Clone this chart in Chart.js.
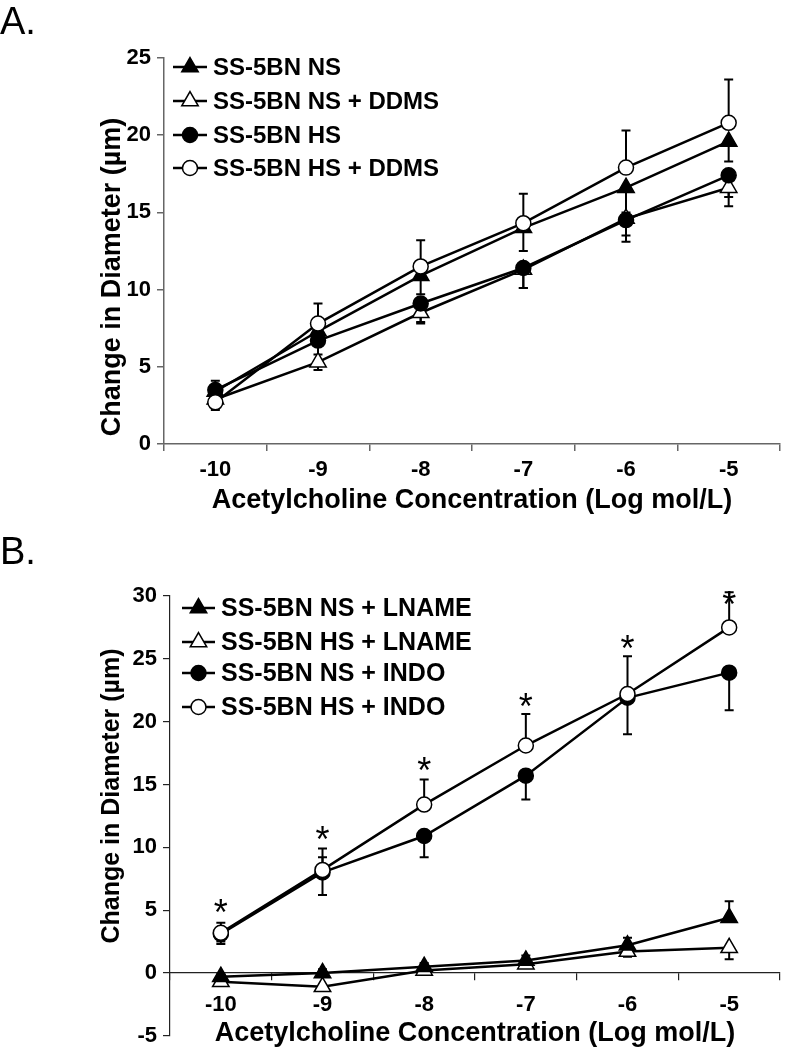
<!DOCTYPE html>
<html>
<head>
<meta charset="utf-8">
<script src="https://cdn.jsdelivr.net/npm/chart.js@4.4.1/dist/chart.umd.min.js"></script>
<style>
  body { margin: 0; background: #fff; width: 791px; height: 1050px; position: relative; overflow: hidden; font-family: "Liberation Sans", Arial, sans-serif; }
  .panel { position: absolute; left: 0; width: 791px; }
  #wrapA { top: 0; height: 520px; }
  #wrapB { top: 525px; height: 530px; }
  .tag { position: absolute; left: 0; font-size: 38px; color: #000; line-height: 1; }
</style>
</head>
<body>
<div class="panel" id="wrapA"><canvas id="chartA" width="791" height="520"></canvas></div>
<div class="panel" id="wrapB"><canvas id="chartB" width="791" height="530"></canvas></div>
<div class="tag" style="top:2px">A.</div>
<div class="tag" style="top:532px">B.</div>
<script>
// x categories (log mol/L acetylcholine)
const doses = ['-10', '-9', '-8', '-7', '-6', '-5'];

// panel A
const nsA       = [3.4, 7.3, 10.9, 14.0, 16.6, 19.6];
const nsDdmsA   = [2.9, 5.3, 8.5, 11.3, 14.6, 16.6];
const hsA       = [3.5, 6.7, 9.1, 11.4, 14.5, 17.4];
const hsDdmsA   = [2.7, 7.8, 11.5, 14.3, 17.9, 20.8];
const nsA_dn     = [0.5, 0.9, 1.2, 1.5, 1.6, 1.3];
const nsDdmsA_dn = [0.4, 0.5, 0.7, 1.2, 1.1, 1.2];
const hsA_up     = [0.6, 0, 0, 0, 0, 0];
const hsA_dn     = [0.5, 0.9, 1.2, 1.3, 1.4, 1.4];
const hsDdmsA_up = [0.4, 1.3, 1.7, 1.9, 2.4, 2.8];
const hsDdmsA_dn = [0.5, 0, 0, 0, 0, 0];

// panel B
const nsLnameB   = [-0.3, 0.0, 0.5, 1.0, 2.2, 4.4];
const hsLnameB   = [-0.7, -1.1, 0.2, 0.7, 1.7, 2.0];
const nsIndoB    = [3.1, 8.0, 10.9, 15.7, 21.9, 23.9];
const hsIndoB    = [3.2, 8.2, 13.4, 18.1, 22.2, 27.5];
const nsLnameB_up = [0.2, 0.3, 0.3, 0.4, 0.6, 1.3];
const hsLnameB_dn = [0.3, 0.3, 0.3, 0.3, 0.4, 0.9];
const nsIndoB_up  = [0, 1.2, 0, 0, 0, 0];
const nsIndoB_dn  = [0.6, 1.8, 1.7, 1.9, 2.9, 3.0];
const hsIndoB_up  = [0.8, 1.7, 2.0, 2.5, 3.0, 2.8];
const hsIndoB_dn  = [0.9, 0, 0, 0, 0, 0];
const starsB      = [5.5, 11.3, 16.8, 21.9, 26.5, 30.0];

const yTicksA = [0, 5, 10, 15, 20, 25];
const yTicksB = [-5, 0, 5, 10, 15, 20, 25, 30];

Chart.defaults.font.family = '"Liberation Sans", Arial, sans-serif';
Chart.defaults.color = '#000';

function series(label, data, style, filled, up, dn, order) {
    return {
        label: label,
        data: data,
        borderColor: '#000',
        borderWidth: 2.5,
        tension: 0,
        pointStyle: style,
        pointRadius: style === 'triangle' ? 9.5 : 7.5,
        pointBorderWidth: 1.5,
        pointBorderColor: '#000',
        pointBackgroundColor: filled ? '#000' : '#fff',
        errUp: up,
        errDn: dn,
        order: order
    };
}

// error bars, drawn under the lines and markers
const errorBars = {
    id: 'errorBars',
    beforeDatasetsDraw(chart) {
        const ctx = chart.ctx;
        const y = chart.scales.y;
        ctx.save();
        ctx.strokeStyle = '#000';
        ctx.lineWidth = 2;
        chart.data.datasets.forEach((ds, i) => {
            const meta = chart.getDatasetMeta(i);
            meta.data.forEach((pt, j) => {
                const v = ds.data[j];
                [[ds.errUp, 1], [ds.errDn, -1]].forEach(([arr, sgn]) => {
                    if (!arr || !arr[j]) return;
                    const end = y.getPixelForValue(v + sgn * arr[j]);
                    ctx.beginPath();
                    ctx.moveTo(pt.x, pt.y);
                    ctx.lineTo(pt.x, end);
                    ctx.moveTo(pt.x - 4.5, end);
                    ctx.lineTo(pt.x + 4.5, end);
                    ctx.stroke();
                });
            });
        });
        ctx.restore();
    }
};

// legend entries: short line with the marker in its middle
const lineLegend = {
    id: 'lineLegend',
    afterDraw(chart, args, opts) {
        const ctx = chart.ctx;
        ctx.save();
        chart.data.datasets.forEach((ds, i) => {
            const yy = opts.rows[i];
            ctx.strokeStyle = '#000';
            ctx.lineWidth = 2.5;
            ctx.beginPath();
            ctx.moveTo(opts.x1, yy);
            ctx.lineTo(opts.x2, yy);
            ctx.stroke();
            ctx.fillStyle = ds.pointBackgroundColor;
            ctx.strokeStyle = '#000';
            ctx.lineWidth = ds.pointBorderWidth;
            Chart.helpers.drawPoint(ctx, {
                pointStyle: ds.pointStyle, radius: ds.pointRadius, rotation: 0, borderWidth: ds.pointBorderWidth
            }, (opts.x1 + opts.x2) / 2, yy);
            ctx.fillStyle = '#000';
            ctx.font = 'bold ' + opts.size + 'px "Liberation Sans", Arial, sans-serif';
            ctx.textBaseline = 'middle';
            ctx.textAlign = 'left';
            ctx.fillText(ds.label, opts.textX, yy + 1);
        });
        ctx.restore();
    }
};

const yTitle = {
    id: 'yTitle',
    afterDraw(chart, args, opts) {
        const ctx = chart.ctx;
        ctx.save();
        ctx.translate(opts.x, opts.y);
        ctx.rotate(-Math.PI / 2);
        ctx.fillStyle = '#000';
        ctx.font = 'bold ' + opts.size + 'px "Liberation Sans", Arial, sans-serif';
        ctx.textAlign = 'center';
        ctx.textBaseline = 'middle';
        ctx.fillText(opts.text, 0, 0);
        ctx.restore();
    }
};

const stars = {
    id: 'stars',
    afterDraw(chart, args, opts) {
        if (!opts.values) return;
        const ctx = chart.ctx;
        const x = chart.scales.x, y = chart.scales.y;
        ctx.save();
        ctx.fillStyle = '#000';
        ctx.font = '36px "Liberation Sans", Arial, sans-serif';
        ctx.textAlign = 'center';
        ctx.textBaseline = 'alphabetic';
        opts.values.forEach((v, j) => {
            ctx.fillText('*', x.getPixelForValue(j), y.getPixelForValue(v) + 21);
        });
        ctx.restore();
    }
};

function axisStyle(color, width) {
    return {
        grid: { drawOnChartArea: false, tickLength: 7, color: color, lineWidth: width, offset: true },
        border: { color: color, width: width }
    };
}

function makeChart(id, cfg) {
    const xs = axisStyle(cfg.axisColor, cfg.axisWidth);
    const ys = axisStyle(cfg.axisColor, cfg.axisWidth);
    return new Chart(document.getElementById(id).getContext('2d'), {
        type: 'line',
        data: { labels: doses, datasets: cfg.datasets },
        options: {
            responsive: false,
            animation: false,
            layout: { padding: cfg.padding },
            plugins: {
                legend: { display: false },
                tooltip: { enabled: false },
                lineLegend: cfg.legend,
                yTitle: cfg.yTitle,
                stars: { values: cfg.stars }
            },
            scales: {
                x: {
                    type: 'category',
                    position: cfg.xPosition,
                    offset: true,
                    grid: xs.grid,
                    border: xs.border,
                    ticks: { font: { size: 22, weight: 'bold' }, color: '#000', padding: cfg.xTickPad, maxRotation: 0 },
                    title: {
                        display: true,
                        text: 'Acetylcholine Concentration (Log mol/L)',
                        font: { size: 27, weight: 'bold' },
                        color: '#000',
                        padding: { top: 0, bottom: 3 }
                    },
                    afterFit: s => { s.height = cfg.xHeight; }
                },
                y: {
                    min: cfg.yTicks[0],
                    max: cfg.yTicks[cfg.yTicks.length - 1],
                    grid: Object.assign({}, ys.grid, { offset: false }),
                    border: ys.border,
                    afterBuildTicks: s => { s.ticks = cfg.yTicks.map(v => ({ value: v })); },
                    ticks: { font: { size: 22, weight: 'bold' }, color: '#000', padding: 6 },
                    afterFit: s => { s.width = cfg.yWidth; }
                }
            }
        },
        plugins: [errorBars, lineLegend, yTitle, stars]
    });
}

makeChart('chartA', {
    datasets: [
        series('SS-5BN NS', nsA, 'triangle', true, null, nsA_dn, 4),
        series('SS-5BN NS + DDMS', nsDdmsA, 'triangle', false, null, nsDdmsA_dn, 3),
        series('SS-5BN HS', hsA, 'circle', true, hsA_up, hsA_dn, 2),
        series('SS-5BN HS + DDMS', hsDdmsA, 'circle', false, hsDdmsA_up, hsDdmsA_dn, 1)
    ],
    yTicks: yTicksA,
    padding: { top: 58, right: 1, left: 0, bottom: 0 },
    xPosition: 'bottom',
    xHeight: 76,
    xTickPad: 6,
    yWidth: 164,
    axisColor: '#666',
    axisWidth: 1.5,
    legend: { rows: [67, 101, 135, 168], x1: 173, x2: 207, textX: 213, size: 24 },
    yTitle: { text: 'Change in Diameter (\u00b5m)', x: 113, y: 277, size: 27 },
    stars: null
});

makeChart('chartB', {
    datasets: [
        series('SS-5BN NS + LNAME', nsLnameB, 'triangle', true, nsLnameB_up, null, 3),
        series('SS-5BN HS + LNAME', hsLnameB, 'triangle', false, null, hsLnameB_dn, 4),
        series('SS-5BN NS + INDO', nsIndoB, 'circle', true, nsIndoB_up, nsIndoB_dn, 2),
        series('SS-5BN HS + INDO', hsIndoB, 'circle', false, hsIndoB_up, hsIndoB_dn, 1)
    ],
    yTicks: yTicksB,
    padding: { top: 71, right: 1, left: 0, bottom: 10 },
    xPosition: { y: 0 },
    xHeight: 80,
    xTickPad: 12,
    yWidth: 170,
    axisColor: '#222',
    axisWidth: 1.2,
    legend: { rows: [83, 117, 148, 182], x1: 182, x2: 215, textX: 221, size: 25 },
    yTitle: { text: 'Change in Diameter (\u00b5m)', x: 112, y: 271, size: 25 },
    stars: starsB
});
</script>
</body>
</html>
